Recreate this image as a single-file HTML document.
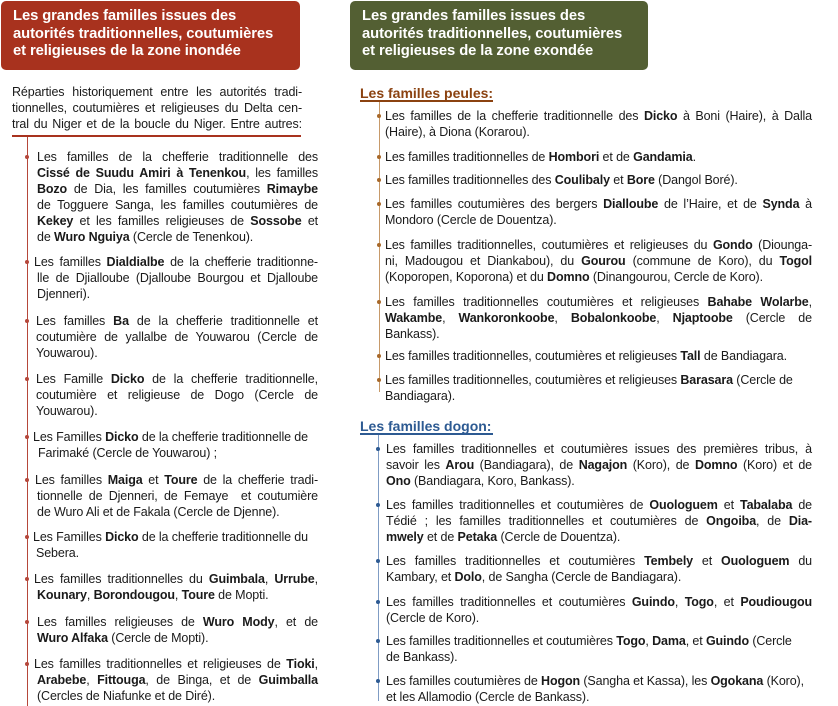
<!DOCTYPE html>
<html><head><meta charset="utf-8">
<style>
html,body{margin:0;padding:0;background:#fff;}
body{width:838px;height:706px;position:relative;overflow:hidden;font-family:"Liberation Sans",sans-serif;color:#1a1a1a;}
.box{position:absolute;top:1px;height:69px;border-radius:5px;color:#fff;font-weight:bold;font-size:14.8px;line-height:17.5px;padding:7px 0 0 12px;box-sizing:border-box;letter-spacing:-0.1px;}
.it{position:absolute;font-size:12.5px;line-height:16px;letter-spacing:-0.12px;}
.it div{text-align:justify;white-space:normal;}
.it div.j{text-align-last:justify;}
.v{position:absolute;width:1px;}
.dot{position:absolute;width:4px;height:4px;border-radius:2px;}
.h{position:absolute;font-weight:bold;font-size:14px;line-height:18px;}
</style></head><body>

<div class="box" style="left:1px;width:299px;background:#a8321e;">Les grandes familles issues des<br>autorités traditionnelles, coutumières<br>et religieuses de la zone inondée</div>
<div class="box" style="left:350px;width:298px;background:#535f33;">Les grandes familles issues des<br>autorités traditionnelles, coutumières<br>et religieuses de la zone exondée</div>

<div class="it" style="left:12px;top:84px;width:290px;">
<div class="j">Réparties historiquement entre les autorités tradi-</div>
<div class="j">tionnelles, coutumières et religieuses du Delta cen-</div>
<div class="j">tral du Niger et de la boucle du Niger. Entre autres:</div>
</div>
<div style="position:absolute;left:12px;top:135px;width:289px;height:2px;background:#a8321e;"></div>
<div class="v" style="left:27px;top:137px;height:569px;background:#b5473a;"></div>

<!-- left items -->
<div class="it" style="left:37px;top:149px;width:281px;">
<div class="j">Les familles de la chefferie traditionnelle des</div>
<div class="j"><b>Cissé de Suudu Amiri à Tenenkou</b>, les familles</div>
<div class="j"><b>Bozo</b> de Dia, les familles coutumières <b>Rimaybe</b></div>
<div class="j">de Togguere Sanga, les familles coutumières de</div>
<div class="j"><b>Kekey</b> et les familles religieuses de <b>Sossobe</b> et</div>
<div>de <b>Wuro Nguiya</b> (Cercle de Tenenkou).</div>
</div>
<div class="it" style="left:34px;top:254px;width:284px;">
<div class="j">Les familles <b>Dialdialbe</b> de la chefferie traditionne-</div>
<div class="j" style="padding-left:3px">lle de Djialloube (Djalloube Bourgou et Djalloube</div>
<div style="padding-left:3px">Djenneri).</div>
</div>
<div class="it" style="left:36px;top:313px;width:282px;">
<div class="j">Les familles <b>Ba</b> de la chefferie traditionnelle et</div>
<div class="j">coutumière de yallalbe de Youwarou (Cercle de</div>
<div>Youwarou).</div>
</div>
<div class="it" style="left:36px;top:371px;width:282px;">
<div class="j">Les Famille <b>Dicko</b> de la chefferie traditionnelle,</div>
<div class="j">coutumière et religieuse de Dogo (Cercle de</div>
<div>Youwarou).</div>
</div>
<div class="it" style="left:33px;top:429px;width:285px;">
<div>Les Familles <b>Dicko</b> de la chefferie traditionnelle de</div>
<div style="padding-left:5px">Farimaké (Cercle de Youwarou) ;</div>
</div>
<div class="it" style="left:35px;top:472px;width:283px;">
<div class="j">Les familles <b>Maiga</b> et <b>Toure</b> de la chefferie tradi-</div>
<div class="j" style="padding-left:2px">tionnelle de Djenneri, de Femaye &nbsp;et coutumière</div>
<div style="padding-left:2px">de Wuro Ali et de Fakala (Cercle de Djenne).</div>
</div>
<div class="it" style="left:33px;top:529px;width:285px;">
<div>Les Familles <b>Dicko</b> de la chefferie traditionnelle du</div>
<div style="padding-left:3px">Sebera.</div>
</div>
<div class="it" style="left:34px;top:571px;width:284px;">
<div class="j">Les familles traditionnelles du <b>Guimbala</b>, <b>Urrube</b>,</div>
<div style="padding-left:3px"><b>Kounary</b>, <b>Borondougou</b>, <b>Toure</b> de Mopti.</div>
</div>
<div class="it" style="left:37px;top:614px;width:281px;">
<div class="j">Les familles religieuses de <b>Wuro Mody</b>, et de</div>
<div><b>Wuro Alfaka</b> (Cercle de Mopti).</div>
</div>
<div class="it" style="left:34px;top:656px;width:284px;">
<div class="j">Les familles traditionnelles et religieuses de <b>Tioki</b>,</div>
<div class="j" style="padding-left:3px"><b>Arabebe</b>, <b>Fittouga</b>, de Binga, et de <b>Guimballa</b></div>
<div style="padding-left:3px">(Cercles de Niafunke et de Diré).</div>
</div>

<!-- left dots -->
<div class="dot" style="left:25px;top:155px;background:#b5473a"></div>
<div class="dot" style="left:25px;top:260px;background:#b5473a"></div>
<div class="dot" style="left:25px;top:319px;background:#b5473a"></div>
<div class="dot" style="left:25px;top:377px;background:#b5473a"></div>
<div class="dot" style="left:25px;top:435px;background:#b5473a"></div>
<div class="dot" style="left:25px;top:478px;background:#b5473a"></div>
<div class="dot" style="left:25px;top:535px;background:#b5473a"></div>
<div class="dot" style="left:25px;top:577px;background:#b5473a"></div>
<div class="dot" style="left:25px;top:620px;background:#b5473a"></div>
<div class="dot" style="left:25px;top:662px;background:#b5473a"></div>

<!-- peules -->
<div class="h" style="left:360px;top:84px;color:#8b4210;">Les familles peules:</div>
<div style="position:absolute;left:360px;top:100px;width:133px;height:2px;background:#8b4210;"></div>
<div class="v" style="left:379px;top:102px;height:290px;background:#c79a6a;"></div>

<div class="it" style="left:385px;top:108px;width:427px;">
<div class="j">Les familles de la chefferie traditionnelle des <b>Dicko</b> à Boni (Haire), à Dalla</div>
<div>(Haire), à Diona (Korarou).</div>
</div>
<div class="it" style="left:385px;top:149px;width:427px;"><div>Les familles traditionnelles de <b>Hombori</b> et de <b>Gandamia</b>.</div></div>
<div class="it" style="left:385px;top:172px;width:427px;"><div>Les familles traditionnelles des <b>Coulibaly</b> et <b>Bore</b> (Dangol Boré).</div></div>
<div class="it" style="left:385px;top:196px;width:427px;">
<div class="j">Les familles coutumières des bergers <b>Dialloube</b> de l’Haire, et de <b>Synda</b> à</div>
<div>Mondoro (Cercle de Douentza).</div>
</div>
<div class="it" style="left:385px;top:237px;width:427px;">
<div class="j">Les familles traditionnelles, coutumières et religieuses du <b>Gondo</b> (Diounga-</div>
<div class="j">ni, Madougou et Diankabou), du <b>Gourou</b> (commune de Koro), du <b>Togol</b></div>
<div>(Koporopen, Koporona) et du <b>Domno</b> (Dinangourou, Cercle de Koro).</div>
</div>
<div class="it" style="left:385px;top:294px;width:427px;">
<div class="j">Les familles traditionnelles coutumières et religieuses <b>Bahabe Wolarbe</b>,</div>
<div class="j"><b>Wakambe</b>, <b>Wankoronkoobe</b>, <b>Bobalonkoobe</b>, <b>Njaptoobe</b> (Cercle de</div>
<div>Bankass).</div>
</div>
<div class="it" style="left:385px;top:348px;width:427px;"><div>Les familles traditionnelles, coutumières et religieuses <b>Tall</b> de Bandiagara.</div></div>
<div class="it" style="left:385px;top:372px;width:427px;">
<div>Les familles traditionnelles, coutumières et religieuses <b>Barasara</b> (Cercle de</div>
<div>Bandiagara).</div>
</div>
<div class="dot" style="left:377px;top:114px;background:#a8692a"></div>
<div class="dot" style="left:377px;top:155px;background:#a8692a"></div>
<div class="dot" style="left:377px;top:178px;background:#a8692a"></div>
<div class="dot" style="left:377px;top:202px;background:#a8692a"></div>
<div class="dot" style="left:377px;top:243px;background:#a8692a"></div>
<div class="dot" style="left:377px;top:300px;background:#a8692a"></div>
<div class="dot" style="left:377px;top:354px;background:#a8692a"></div>
<div class="dot" style="left:377px;top:378px;background:#a8692a"></div>

<!-- dogon -->
<div class="h" style="left:360px;top:417px;color:#2d5a92;">Les familles dogon:</div>
<div style="position:absolute;left:360px;top:433px;width:133px;height:2px;background:#2d5a92;"></div>
<div class="v" style="left:378px;top:435px;height:266px;background:#7f9cc4;"></div>

<div class="it" style="left:386px;top:441px;width:426px;">
<div class="j">Les familles traditionnelles et coutumières issues des premières tribus, à</div>
<div class="j">savoir les <b>Arou</b> (Bandiagara), de <b>Nagajon</b> (Koro), de <b>Domno</b> (Koro) et de</div>
<div><b>Ono</b> (Bandiagara, Koro, Bankass).</div>
</div>
<div class="it" style="left:386px;top:497px;width:426px;">
<div class="j">Les familles traditionnelles et coutumières de <b>Ouologuem</b> et <b>Tabalaba</b> de</div>
<div class="j">Tédié ; les familles traditionnelles et coutumières de <b>Ongoiba</b>, de <b>Dia-</b></div>
<div><b>mwely</b> et de <b>Petaka</b> (Cercle de Douentza).</div>
</div>
<div class="it" style="left:386px;top:553px;width:426px;">
<div class="j">Les familles traditionnelles et coutumières <b>Tembely</b> et <b>Ouologuem</b> du</div>
<div>Kambary, et <b>Dolo</b>, de Sangha (Cercle de Bandiagara).</div>
</div>
<div class="it" style="left:386px;top:594px;width:426px;">
<div class="j">Les familles traditionnelles et coutumières <b>Guindo</b>, <b>Togo</b>, et <b>Poudiougou</b></div>
<div>(Cercle de Koro).</div>
</div>
<div class="it" style="left:386px;top:633px;width:426px;">
<div>Les familles traditionnelles et coutumières <b>Togo</b>, <b>Dama</b>, et <b>Guindo</b> (Cercle</div>
<div>de Bankass).</div>
</div>
<div class="it" style="left:386px;top:673px;width:426px;">
<div>Les familles coutumières de <b>Hogon</b> (Sangha et Kassa), les <b>Ogokana</b> (Koro),</div>
<div>et les Allamodio (Cercle de Bankass).</div>
</div>
<div class="dot" style="left:376px;top:447px;background:#2d5a92"></div>
<div class="dot" style="left:376px;top:503px;background:#2d5a92"></div>
<div class="dot" style="left:376px;top:559px;background:#2d5a92"></div>
<div class="dot" style="left:376px;top:600px;background:#2d5a92"></div>
<div class="dot" style="left:376px;top:639px;background:#2d5a92"></div>
<div class="dot" style="left:376px;top:679px;background:#2d5a92"></div>

</body></html>
